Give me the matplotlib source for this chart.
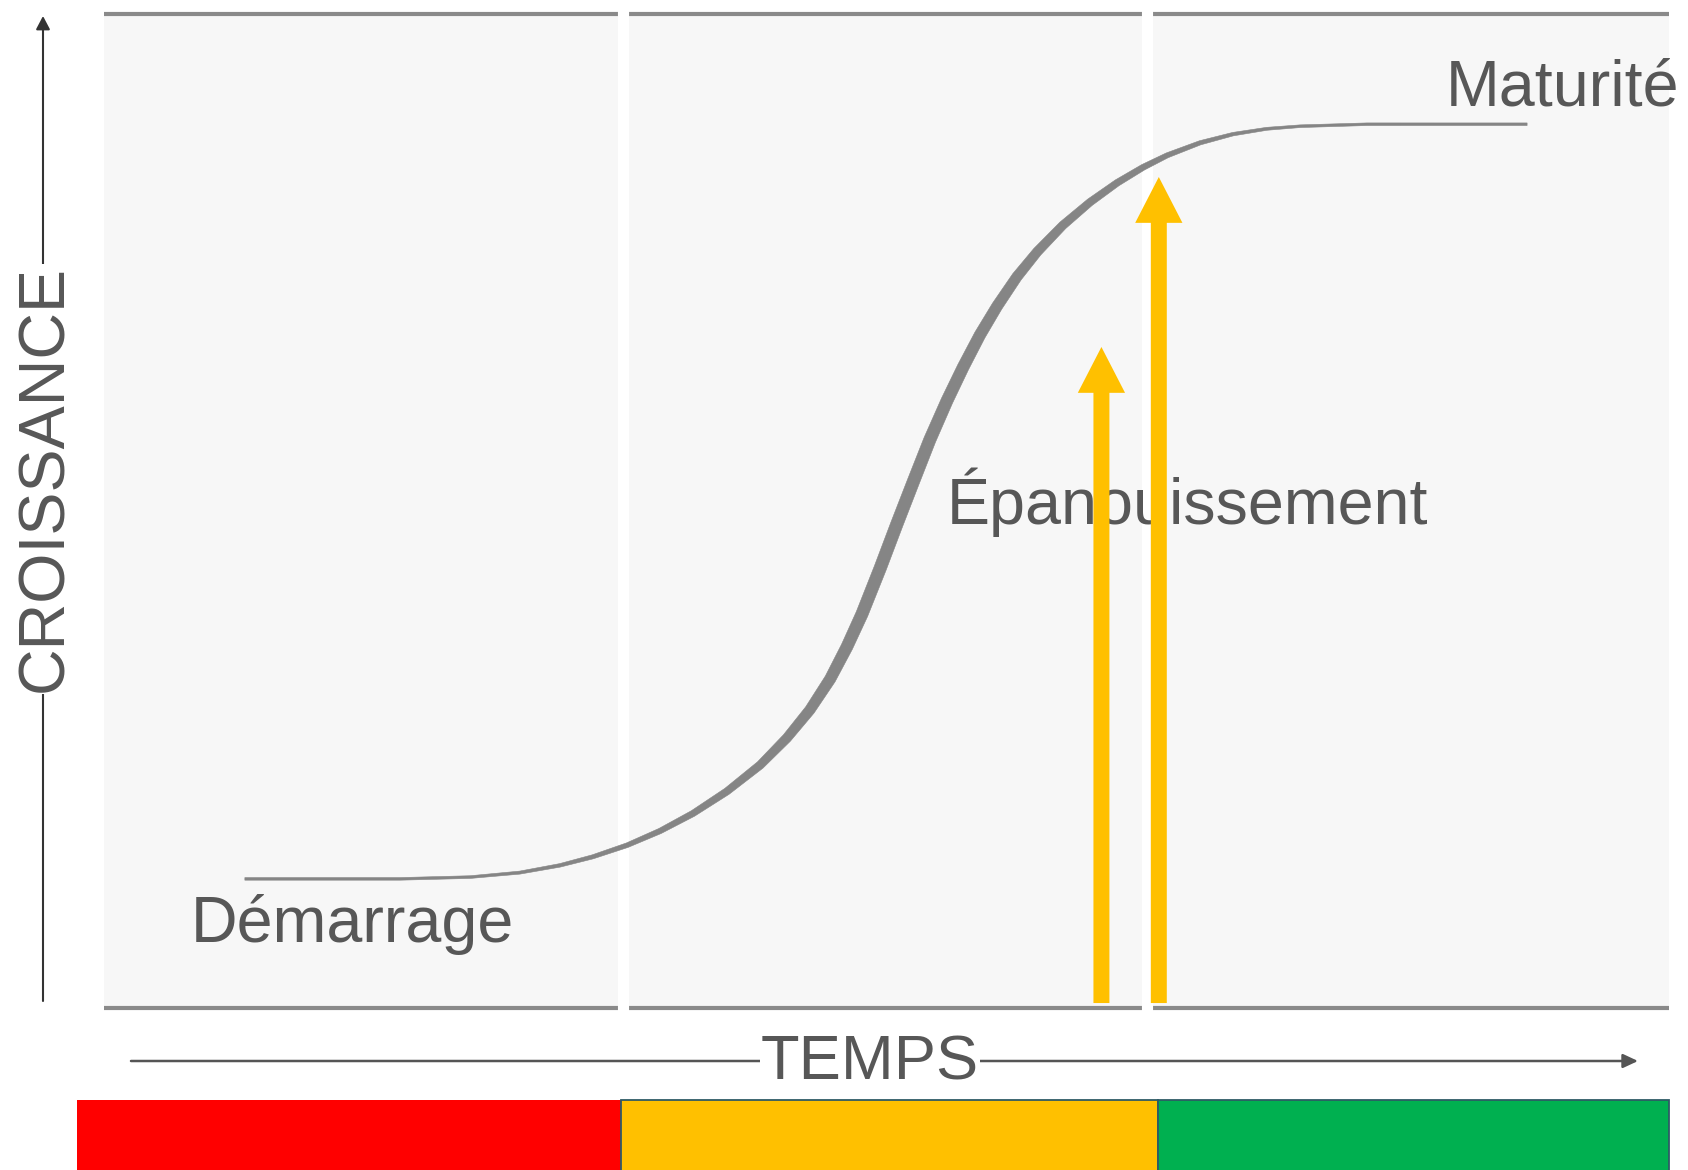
import numpy as np
import matplotlib
matplotlib.use('Agg')
import matplotlib.pyplot as plt
from matplotlib.patches import FancyArrowPatch

plt.rcParams['font.family'] = ['Liberation Sans', 'DejaVu Sans']

# phases du cycle (axe du temps en unites de phase 0..3)
phase_names = ['Démarrage', 'Épanouissement', 'Maturité']
phase_edges = [0.0, 0.994, 2.0, 3.0]
bar_left = [-0.051, 0.991, 2.020]
bar_right = [0.991, 2.020, 3.0]
bar_colors = ['#ff0000', '#ffc000', '#00b050']

# courbe en S : temps / croissance (%)
curve_t = [0.270, 0.414, 0.567, 0.702, 0.797, 0.874, 0.937, 1.003, 1.066,
           1.129, 1.194, 1.258, 1.309, 1.353, 1.392, 1.424, 1.453, 1.488,
           1.520, 1.551, 1.583, 1.616, 1.647, 1.679, 1.712, 1.750, 1.789,
           1.838, 1.890, 1.942, 1.992, 2.038, 2.101, 2.164, 2.229, 2.293,
           2.421, 2.548, 2.728]
curve_g = [12.99, 12.99, 12.99, 13.17, 13.62, 14.35, 15.21, 16.38, 17.81,
           19.57, 21.79, 24.45, 27.16, 29.98, 33.10, 36.32, 39.64, 44.26,
           48.70, 52.89, 57.16, 61.10, 64.48, 67.70, 70.60, 73.56, 76.08,
           78.74, 81.06, 83.01, 84.58, 85.78, 87.04, 87.91, 88.45, 88.71,
           88.91, 88.91, 88.91]

# fleches jaunes
arrow_t = [1.912, 2.022]
arrow_base = [0.5, 0.5]
arrow_top = [66.5, 83.6]

# libelles (position en unites de donnees)
label_t = [0.167, 1.615, 2.572]
label_g = [6.6, 48.7, 90.8]

W, H = 1688, 1170
fig = plt.figure(figsize=(W / 100, H / 100), dpi=100)
fig.patch.set_facecolor('white')

# panneau principal
px_left, px_right, px_top, px_bottom = 104, 1669, 14, 1008
ax = fig.add_axes([px_left / W, (H - px_bottom) / H,
                   (px_right - px_left) / W, (px_bottom - px_top) / H])
ax.set_xlim(0, 3)
ax.set_ylim(0, 100)
ax.set_facecolor('#f7f7f7')
ax.set_xticks([])
ax.set_yticks([])
for s in ax.spines.values():
  s.set_visible(False)

ax.hlines([0, 100], 0, 3, color='#8a8a8a', lw=3, zorder=1, clip_on=False)
ax.vlines(phase_edges[1:3], -1.5, 101.5, color='white', lw=8, zorder=2, clip_on=False)

# courbe en ruban : plus epaisse dans la montee
pts = ax.transData.transform(np.column_stack([curve_t, curve_g]))
tang = np.gradient(pts, axis=0)
tang /= np.linalg.norm(tang, axis=1)[:, None]
normal = np.column_stack([-tang[:, 1], tang[:, 0]])
w_px = 2.6 + 11.0 * (tang[:, 1] ** 2) ** 0.8
upper = pts + normal * (w_px / 2)[:, None]
lower = pts - normal * (w_px / 2)[:, None]
ribbon = ax.transData.inverted().transform(np.vstack([upper, lower[::-1]]))
ax.fill(ribbon[:, 0], ribbon[:, 1], color='#858585', lw=0.4, ec='#858585', zorder=3)

for name, t, g in zip(phase_names, label_t, label_g):
  ax.text(t, g, name, ha='left', va='baseline', fontsize=46.5,
          color='#575757', zorder=3, clip_on=False)

for t, b, top in zip(arrow_t, arrow_base, arrow_top):
  arr = FancyArrowPatch((t, b), (t, top),
                        arrowstyle='simple,head_length=33,head_width=34,tail_width=11.5',
                        mutation_scale=1, color='#ffc000', lw=0,
                        shrinkA=0, shrinkB=0, zorder=4)
  ax.add_patch(arr)

# axes CROISSANCE / TEMPS
ax_o = fig.add_axes([0, 0, 1, 1])
ax_o.set_xlim(0, W)
ax_o.set_ylim(H, 0)
ax_o.axis('off')
ax_o.annotate('', xy=(43, 16), xytext=(43, 1001),
              arrowprops=dict(arrowstyle='-|>,head_length=0.8,head_width=0.42',
                              mutation_scale=10, color='#333333', lw=1.5,
                              shrinkA=0, shrinkB=0))
ax_o.text(62, 479, 'CROISSANCE', rotation=90, rotation_mode='anchor',
          ha='center', va='baseline', fontsize=46.5, color='#575757',
          bbox=dict(fc='white', ec='none', pad=1))
ax_o.annotate('', xy=(1638, 1061), xytext=(131, 1061),
              arrowprops=dict(arrowstyle='-|>,head_length=0.9,head_width=0.42',
                              mutation_scale=10, color='#555555', lw=1.8,
                              shrinkA=0, shrinkB=0))
ax_o.text(761, 1080, 'TEMPS', ha='left', va='baseline', fontsize=45.5,
          color='#575757', bbox=dict(fc='white', ec='none', pad=1))

# bandeau de couleurs
scale = (px_right - px_left) / 3.0
bx0 = px_left + bar_left[0] * scale
ax_b = fig.add_axes([bx0 / W, 0, (px_right - bx0) / W, 70 / H])
ax_b.set_xlim(bar_left[0], 3.0)
ax_b.set_ylim(0, 1)
ax_b.axis('off')
widths_b = [r - l for l, r in zip(bar_left, bar_right)]
ax_b.barh(0.25, widths_b, left=bar_left, height=1.5, color=bar_colors,
          edgecolor=['#ff0000', '#2e5a66', '#2e5a66'], linewidth=[0, 1.3, 1.3],
          clip_on=False)

fig.savefig('out.png', dpi=100)
plt.close(fig)
